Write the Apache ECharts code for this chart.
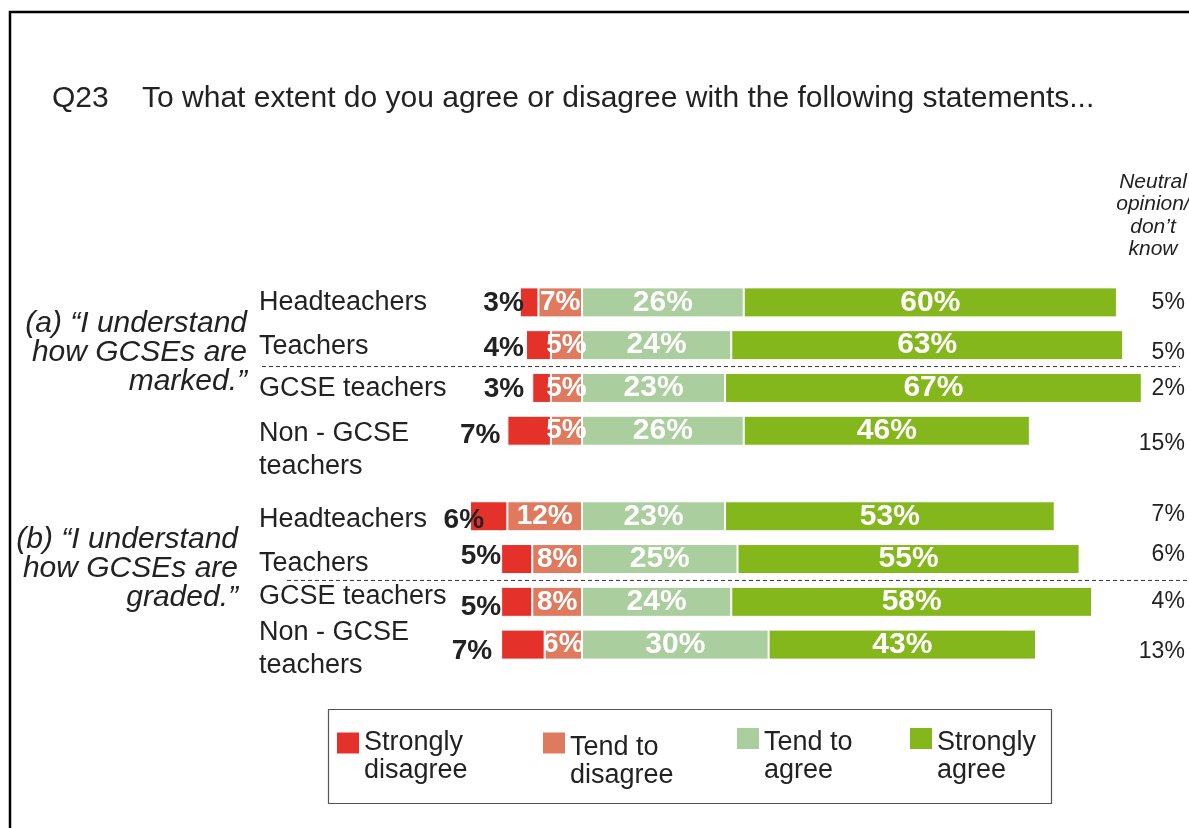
<!DOCTYPE html>
<html>
<head>
<meta charset="utf-8">
<script src="https://cdn.jsdelivr.net/npm/echarts@6/dist/echarts.min.js"></script>
<style>
  html, body { margin: 0; padding: 0; background: #fff; }
  #chart { width: 1189px; height: 828px; }
</style>
</head>
<body>
<div id="chart"></div>
<script>
// ---- survey results (percent of respondents) ----
const titleText = 'Q23    To what extent do you agree or disagree with the following statements...';
const statements = ['(a) \u201cI understand\nhow GCSEs are\nmarked.\u201d', '(b) \u201cI understand\nhow GCSEs are\ngraded.\u201d'];
const respondentGroups = ['Headteachers', 'Teachers', 'GCSE teachers', 'Non - GCSE\nteachers'];
const seriesNames = ['Strongly disagree', 'Tend to disagree', 'Tend to agree', 'Strongly agree'];
const legendLabels = [['Strongly', 'disagree'], ['Tend to', 'disagree'], ['Tend to', 'agree'], ['Strongly', 'agree']];
const neutralHeader = 'Neutral\nopinion/\ndon\u2019t\nknow';

// rows: statement (a) x 4 groups, then statement (b) x 4 groups
const stronglyDisagree = [3, 4, 3, 7, 6, 5, 5, 7];
const tendToDisagree   = [7, 5, 5, 5, 12, 8, 8, 6];
const tendToAgree      = [26, 24, 23, 26, 23, 25, 24, 30];
const stronglyAgree    = [60, 63, 67, 46, 53, 55, 58, 43];
const neutralDontKnow  = [5, 5, 2, 15, 7, 6, 4, 13];

// ---- presentation ----
const FONT = "'Liberation Sans', Arial, Helvetica, sans-serif";
const INK = '#222';
const COLORS = ['#E4322B', '#DF7A5E', '#AACE9D', '#84B71C'];
const NEUTRAL_COLUMN = 97;          // x-axis value where the neutral column is right-aligned

// hand-placed label nudges in px, one per row
const sdLabelShift = [[4, 1], [-2, 3], [-8, 1], [-7, 5], [14, 4], [0, -3], [0, 5], [-9, 7]];
const neutralShift = [0, 7, 1, 13, -2, -4, 0, 7];
const rowLabelShift = [0, 1, 1, 19, 3, 4, -5, 4];

// insert an empty spacer row between the two statements
const spaced = arr => [...arr.slice(0, 4), null, ...arr.slice(4)];
const rowNames = spaced([...respondentGroups, ...respondentGroups]);
const rowShift = spaced(rowLabelShift);

const pct = p => Math.abs(p.value) + '%';
const barBase = {
  type: 'bar', stack: 'total', barWidth: 30,
  emphasis: { disabled: true }
};
const insideLabel = size => ({
  show: true, position: 'inside', color: '#fff', fontFamily: FONT,
  fontWeight: 'bold', fontSize: size, formatter: pct
});
const blank = v => v == null ? '-' : null;

const series = [
  Object.assign({}, barBase, {
    name: seriesNames[1],
    itemStyle: { color: COLORS[1], borderColor: '#fff', borderWidth: 1 },
    label: insideLabel(28),
    data: spaced(tendToDisagree).map(v => blank(v) || -v)
  }),
  Object.assign({}, barBase, {
    name: seriesNames[0],
    itemStyle: { color: COLORS[0], borderColor: '#fff', borderWidth: 1 },
    label: {
      show: true, position: 'left', distance: 0, color: INK, fontFamily: FONT,
      fontWeight: 'bold', fontSize: 28, formatter: pct
    },
    data: spaced(stronglyDisagree).map((v, i) =>
      blank(v) || { value: -v, label: { offset: spaced(sdLabelShift)[i] } })
  }),
  Object.assign({}, barBase, {
    name: seriesNames[2],
    itemStyle: { color: COLORS[2], borderColor: '#fff', borderWidth: 1 },
    label: insideLabel(30),
    data: spaced(tendToAgree).map(v => blank(v) || v)
  }),
  Object.assign({}, barBase, {
    name: seriesNames[3],
    itemStyle: { color: COLORS[3], borderColor: '#fff', borderWidth: 1 },
    label: insideLabel(30),
    data: spaced(stronglyAgree).map(v => blank(v) || v)
  }),
  {
    type: 'scatter', name: 'Neutral', symbolSize: 1,
    itemStyle: { color: 'rgba(0,0,0,0)', opacity: 1 },
    emphasis: { disabled: true },
    label: {
      show: true, position: 'left', distance: 0, color: INK, opacity: 1,
      fontFamily: FONT, fontSize: 23, formatter: p => p.value[2] + '%'
    },
    data: spaced(neutralDontKnow).map((v, i) => v == null ? null : {
      value: [NEUTRAL_COLUMN, i, v],
      label: { offset: [0, spaced(neutralShift)[i]] }
    }).filter(d => d)
  }
];

// legend items: left edge, top of the item block, and spacer height above the caption
const legendPlace = [
  { left: 337, top: 701, lift: 28 },
  { left: 543, top: 696, lift: 38 },
  { left: 737, top: 692, lift: 37 },
  { left: 910, top: 692, lift: 37 }
];

const chart = echarts.init(document.getElementById('chart'), null, { renderer: 'canvas' });

chart.setOption({
  animation: false,
  backgroundColor: '#fff',
  title: {
    text: titleText, left: 52, top: 84, padding: 0,
    textStyle: { fontFamily: FONT, fontSize: 30, fontWeight: 'normal', color: INK, lineHeight: 30 }
  },
  grid: { left: 457.6, top: 281, width: 117 * 6.22, height: 385, containLabel: false },
  xAxis: { type: 'value', min: -20, max: NEUTRAL_COLUMN, show: false },
  yAxis: {
    type: 'category', inverse: true, data: rowNames.map((n, i) => 'row' + i),
    axisLine: { show: false }, axisTick: { show: false }, splitLine: { show: false },
    axisLabel: { show: false }
  },
  legend: seriesNames.map((n, i) => ({
    data: [n], left: legendPlace[i].left, top: legendPlace[i].top, padding: 0,
    itemWidth: 22, itemHeight: 21, icon: 'rect', selectedMode: false,
    itemStyle: { borderWidth: 0 },
    formatter: name => {
      const lines = legendLabels[seriesNames.indexOf(name)];
      return '{s|.}\n{t|' + lines[0] + '}\n{t|' + lines[1] + '}';
    },
    textStyle: {
      fontFamily: FONT, fontSize: 27, color: INK,
      rich: {
        s: { fontSize: legendPlace[i].lift, lineHeight: legendPlace[i].lift, color: 'rgba(0,0,0,0)' },
        t: { fontFamily: FONT, fontSize: 27, lineHeight: 28, color: INK }
      }
    }
  })),
  series: series
});

// annotations tied to row positions on the category axis
const rowY = i => chart.convertToPixel({ gridIndex: 0 }, [0, i])[1];
const between = (a, b) => (rowY(a) + rowY(b)) / 2;
const dashed = (y, x1, x2) => ({
  type: 'line', silent: true,
  shape: { x1: x1, y1: y, x2: x2, y2: y },
  style: { stroke: '#333', lineWidth: 1, lineDash: [4, 3] }
});
const statementText = (text, xRight, y) => ({
  type: 'text', silent: true, x: xRight, y: y,
  style: {
    text: text, fill: INK, font: 'italic 30px ' + FONT,
    align: 'right', verticalAlign: 'middle', lineHeight: 29
  }
});
const rowLabels = rowNames.map((name, i) => name == null ? null : {
  type: 'text', silent: true, x: 259, y: rowY(i) + (rowShift[i] || 0),
  style: {
    text: name, fill: INK, font: '27px ' + FONT,
    align: 'left', verticalAlign: 'middle', lineHeight: 33
  }
}).filter(g => g);

chart.setOption({
  graphic: [
    { type: 'rect', silent: true, shape: { x: 10, y: 12, width: 1400, height: 1000 },
      style: { fill: 'none', stroke: '#000', lineWidth: 2.5 } },
    { type: 'rect', silent: true, shape: { x: 328.5, y: 709.5, width: 723, height: 94 },
      style: { fill: 'none', stroke: '#555', lineWidth: 1.2 } },
    { type: 'text', silent: true, x: 1153, y: 215.5,
      style: { text: neutralHeader, fill: INK, font: 'italic 21px ' + FONT,
        align: 'center', verticalAlign: 'middle', lineHeight: 22.5 } },
    dashed(between(1, 2), 262, 1180),
    dashed(between(6, 7), 287, 1189),
    statementText(statements[0], 247, between(0, 3) - 13.5),
    statementText(statements[1], 238, between(5, 8) - 11.5)
  ].concat(rowLabels)
});
</script>
</body>
</html>
